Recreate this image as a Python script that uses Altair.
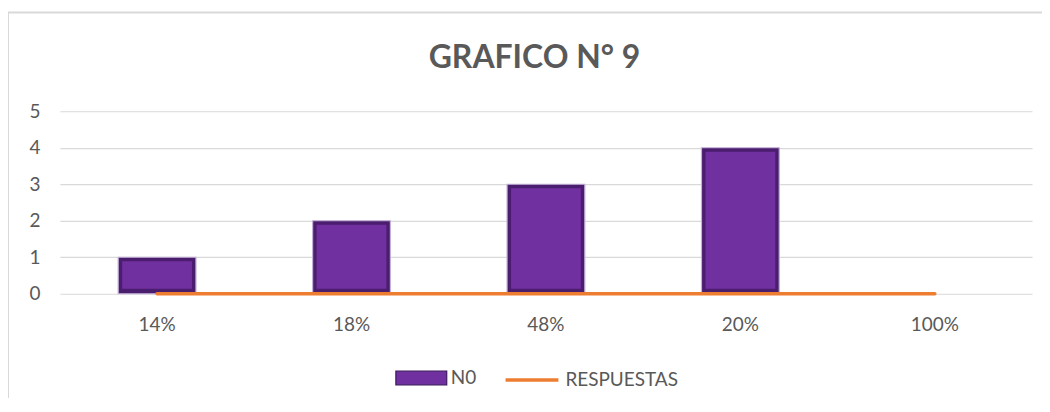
import altair as alt
import pandas as pd

categories = ["14%", "18%", "48%", "20%", "100%"]
n0_values = [1, 2, 3, 4, 0]
respuestas_values = [0, 0, 0, 0, 0]
title_text = "GRAFICO N° 9"

df = pd.DataFrame({"cat": categories, "N0": n0_values, "RESPUESTAS": respuestas_values})

FONT = "Lato"
TXT = "#595959"

x_enc = alt.X(
    "cat:N",
    sort=categories,
    scale=alt.Scale(paddingInner=0.6, paddingOuter=0.3),
    axis=alt.Axis(
        title=None, labelAngle=0, domain=False, ticks=False, tickSize=0,
        labelPadding=22, labelFontSize=19, labelColor=TXT, labelFont=FONT, grid=False,
    ),
)
y_axis = alt.Axis(
    title=None, values=[0, 1, 2, 3, 4, 5], domain=False, ticks=False, tickSize=0,
    labelPadding=20, labelFontSize=19, labelColor=TXT, labelFont=FONT,
    gridColor="#D9D9D9", gridWidth=1.2,
)
y_scale = alt.Scale(domain=[0, 5], nice=False)

base = alt.Chart(df)

bars_df = base.transform_filter("datum.N0 > 0")

outer = bars_df.mark_bar(color="#4B1D6E", stroke="#C3B1D8", strokeWidth=1.2).encode(
    x=x_enc, y=alt.Y("N0:Q", scale=y_scale, axis=y_axis), y2=alt.Y2(datum=0)
)
inner = bars_df.transform_calculate(serie="'N0'").mark_bar(
    size=70, yOffset=4, y2Offset=-5
).encode(
    x=x_enc,
    y=alt.Y("N0:Q", scale=y_scale, axis=y_axis),
    y2=alt.Y2(datum=0),
    fill=alt.Fill(
        "serie:N",
        scale=alt.Scale(domain=["N0"], range=["#7030A0"]),
        legend=alt.Legend(
            title=None, orient="none", legendX=336, legendY=241,
            symbolType="M-1,-0.27L1,-0.27L1,0.27L-1,0.27Z", symbolSize=2601,
            symbolStrokeColor="#3E1860", symbolStrokeWidth=1.2,
            labelFontSize=19, labelFont=FONT, labelColor=TXT, labelOffset=3,
        ),
    ),
)

line = base.transform_calculate(serie="'RESPUESTAS'").mark_line(
    strokeWidth=3.5, strokeCap="round"
).encode(
    x=x_enc,
    y=alt.Y("RESPUESTAS:Q", scale=y_scale, axis=y_axis),
    stroke=alt.Stroke(
        "serie:N",
        scale=alt.Scale(domain=["RESPUESTAS"], range=["#ED7D31"]),
        legend=alt.Legend(
            title=None, orient="none", legendX=445, legendY=241,
            symbolType="stroke", symbolSize=2809, symbolStrokeWidth=3.5,
            labelFontSize=19, labelFont=FONT, labelColor=TXT, labelOffset=5,
        ),
    ),
)

border = alt.Chart(pd.DataFrame({"b": [0]})).mark_rect(
    fillOpacity=0, stroke="#D9D9D9", strokeWidth=2
).encode(
    x=alt.value(-52), x2=alt.value(1200), y=alt.value(-99), y2=alt.value(600)
)

title = alt.Chart(pd.DataFrame({"t": [title_text]})).mark_text(
    font=FONT, fontSize=32, fontWeight="bold", color=TXT, align="center", baseline="alphabetic"
).encode(text="t:N", x=alt.value(476), y=alt.value(-43))

chart = alt.layer(border, outer, inner, line, title).properties(
    width=975,
    height=183,
    autosize=alt.AutoSizeParams(type="none"),
    padding={"left": 52, "top": 103, "right": 10, "bottom": 104},
).resolve_scale(fill="independent", stroke="independent").configure_view(stroke=None)

chart.save("out.html", embed_options={"renderer": "svg", "actions": False})
